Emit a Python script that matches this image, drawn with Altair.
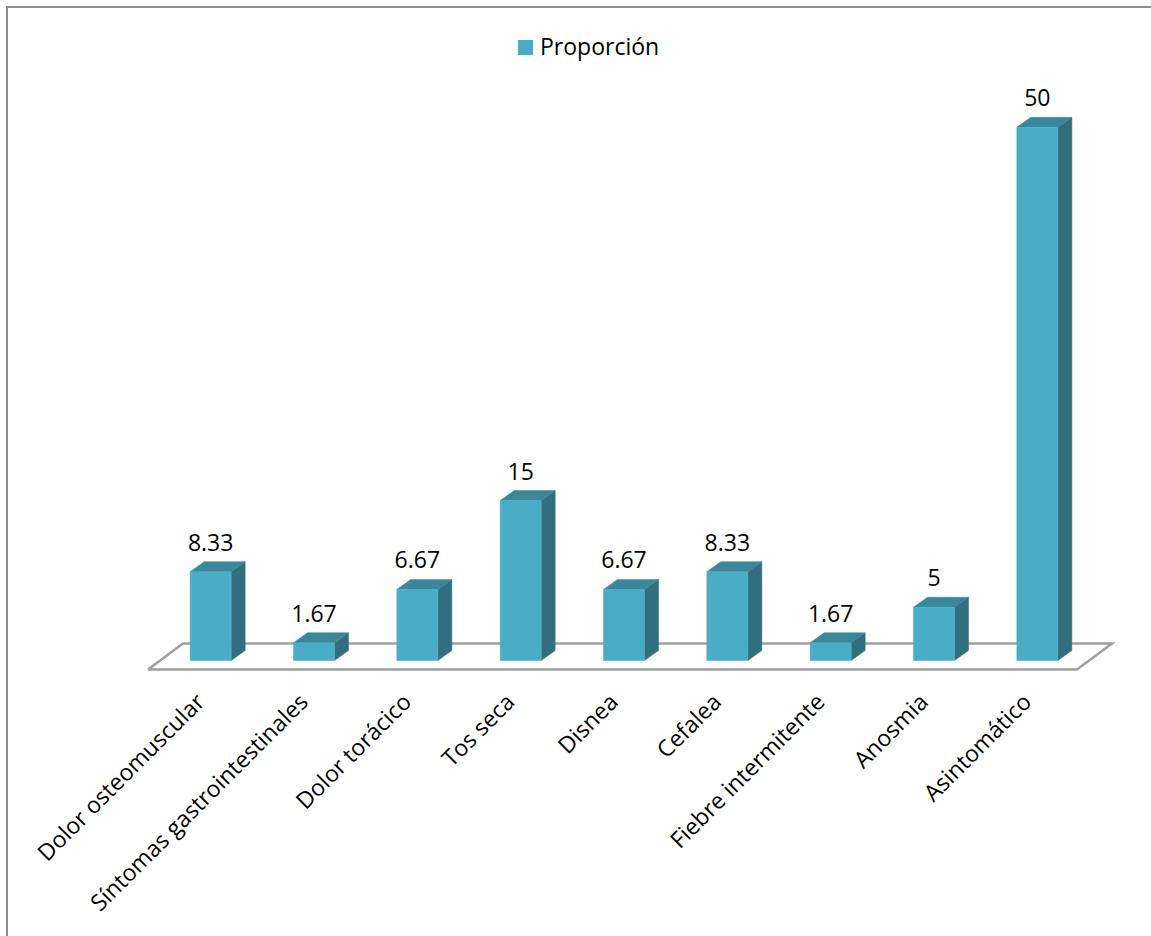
import json
import altair as alt
import pandas as pd

categories = ["Dolor osteomuscular", "Síntomas gastrointestinales", "Dolor torácico",
              "Tos seca", "Disnea", "Cefalea", "Fiebre intermitente", "Anosmia", "Asintomático"]
values = [8.33, 1.67, 6.67, 15, 6.67, 8.33, 1.67, 5, 50]
value_labels = ["8.33", "1.67", "6.67", "15", "6.67", "8.33", "1.67", "5", "50"]
series_name = "Proporción"

# layout (pixels)
W, H = 930, 610
PAD_L, PAD_T = 159, 74
X_DOM = [-0.5, 8.5]
Y_DOM = [-2.2, 55]
PX_X = W / (X_DOM[1] - X_DOM[0])
PX_Y = H / (Y_DOM[1] - Y_DOM[0])

HALF_W = 20.5 / PX_X      # half bar width in x units
DX = 14 / PX_X            # 3D depth, x
DY = 10 / PX_Y            # 3D depth, y

FRONT = "#4BACC6"
TOP = "#3A879B"
SIDE = "#316F7F"
FLOOR = "#A0A0A0"
BORDER = "#8C8C8C"
FS = 23

idx = list(range(len(categories)))

front = pd.DataFrame({"i": idx, "v": values, "lab": value_labels,
                      "x0": [i - HALF_W for i in idx], "x1": [i + HALF_W for i in idx],
                      "series": series_name})

side_rows, top_rows = [], []
for i, v in zip(idx, values):
    side_rows += [{"b": i, "x": i + HALF_W, "y": v, "y2": 0},
                  {"b": i, "x": i + HALF_W + DX, "y": v + DY, "y2": DY}]
    top_rows += [{"b": i, "x": i - HALF_W, "y": v, "y2": v},
                 {"b": i, "x": i - HALF_W + DX, "y": v + DY, "y2": v},
                 {"b": i, "x": i + HALF_W, "y": v + DY, "y2": v},
                 {"b": i, "x": i + HALF_W + DX, "y": v + DY, "y2": v + DY}]
side = pd.DataFrame(side_rows)
top = pd.DataFrame(top_rows)

# floor outline (pixel offsets from the scale ends, converted to data units)
fy_front = -9 / PX_Y
fy_back = 17 / PX_Y
floor = pd.DataFrame({
    "o": [0, 1, 2, 3, 4],
    "x": [X_DOM[0] - 11 / PX_X, X_DOM[1] - 12 / PX_X, X_DOM[1] + 23 / PX_X, X_DOM[0] + 24 / PX_X, X_DOM[0] - 11 / PX_X],
    "y": [fy_front, fy_front, fy_back, fy_back, fy_front],
})

names_js = json.dumps(categories, ensure_ascii=False)
xaxis = alt.Axis(values=idx, labelExpr=f"{names_js}[datum.value]", labelAngle=-45,
                 labelAlign="right", labelBaseline="middle", labelFontSize=FS,
                 labelFont="Open Sans", labelColor="black", domain=False, ticks=False,
                 tickSize=0, grid=False, title=None, labelPadding=14, labelOverlap=False,
                 labelLimit=0, labelOffset=-10)
xs = alt.Scale(domain=X_DOM, nice=False, zero=False)
ys = alt.Scale(domain=Y_DOM, nice=False, zero=False)

floor_layer = alt.Chart(floor).mark_line(color=FLOOR, strokeWidth=2.5, strokeJoin="miter").encode(
    x=alt.X("x:Q", scale=xs, axis=xaxis),
    y=alt.Y("y:Q", scale=ys, axis=None),
    order="o:Q",
)

side_layer = alt.Chart(side).mark_area(color=SIDE, stroke=SIDE, strokeWidth=0.5, orient="vertical").encode(
    x=alt.X("x:Q", scale=xs, axis=xaxis),
    y=alt.Y("y:Q", scale=ys, axis=None),
    y2="y2:Q",
    detail="b:N",
)

top_layer = alt.Chart(top).mark_area(color=TOP, stroke=TOP, strokeWidth=0.5, orient="vertical").encode(
    x=alt.X("x:Q", scale=xs, axis=xaxis),
    y=alt.Y("y:Q", scale=ys, axis=None),
    y2="y2:Q",
    detail="b:N",
)

front_layer = alt.Chart(front).mark_rect(stroke=FRONT, strokeWidth=0.5).encode(
    x=alt.X("x0:Q", scale=xs, axis=xaxis),
    x2="x1:Q",
    y=alt.Y("v:Q", scale=ys, axis=None),
    y2=alt.datum(0),
    color=alt.Color("series:N", scale=alt.Scale(domain=[series_name], range=[FRONT]),
                    legend=alt.Legend(orient="none", legendX=355, legendY=-38, title=None,
                                      symbolType="square", symbolSize=225, symbolStrokeWidth=0,
                                      labelFontSize=FS, labelFont="Open Sans", labelColor="black",
                                      labelOffset=3, padding=0)),
)

text_layer = alt.Chart(front).mark_text(fontSize=FS, font="Open Sans", color="black",
                                        baseline="alphabetic", dy=-21).encode(
    x=alt.X("i:Q", scale=xs, axis=xaxis),
    y=alt.Y("v:Q", scale=ys, axis=None),
    text="lab:N",
)

border_top = alt.Chart(front).mark_rule(color=BORDER, strokeWidth=2).encode(
    x=alt.value(6 - PAD_L), x2=alt.value(1160 - PAD_L), y=alt.value(7 - PAD_T))
border_left = alt.Chart(front).mark_rule(color=BORDER, strokeWidth=2).encode(
    x=alt.value(7 - PAD_L), y=alt.value(7 - PAD_T), y2=alt.value(950 - PAD_T))

chart = alt.layer(border_top, border_left, floor_layer, side_layer, top_layer, front_layer, text_layer).properties(
    width=W, height=H,
    padding={"left": PAD_L, "top": PAD_T, "right": 1151 - PAD_L - W, "bottom": 936 - PAD_T - H},
    autosize="none",
    background="white",
).configure_view(stroke=None)

chart.save("out.html", embed_options={"renderer": "svg", "actions": False})
